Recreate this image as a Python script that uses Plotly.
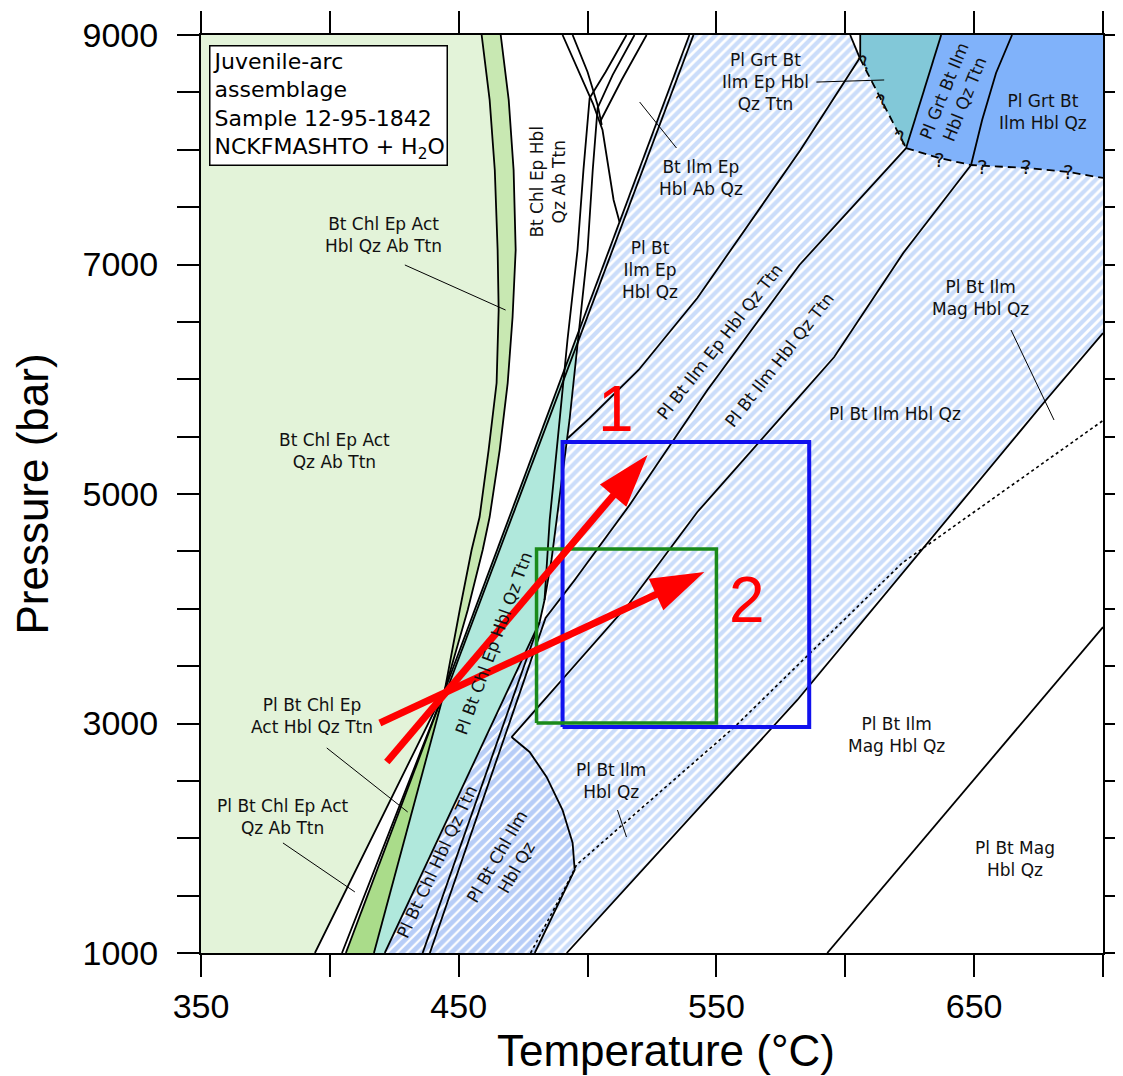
import plotly.graph_objects as go

# ---------------- axis ticks ----------------
T_RANGE = [350, 700]
P_RANGE = [1000, 9000]
T_TICKS = [350, 400, 450, 500, 550, 600, 650, 700]
T_TICK_TEXT = ["350", "", "450", "", "550", "", "650", ""]
P_TICKS = [1000, 1500, 2000, 2500, 3000, 3500, 4000, 4500, 5000,
           5500, 6000, 6500, 7000, 7500, 8000, 8500, 9000]
P_TICK_TEXT = ["1000", "", "", "", "3000", "", "", "", "5000",
               "", "", "", "7000", "", "", "", "9000"]

# ---------------- field boundaries (T in degC, P in bar) ----------------
IP_T, IP_P = 444.6, 3292          # invariant point where the arrows cross

GL_T = [458.9, 462.0, 464.0, 465.1, 465.5, 464.7, 461.6, 458.1, 455.0, 450.4, 444.6]
GL_P = [9000, 8434, 7824, 7126, 6603, 5967, 5383, 4799, 4512, 3989, 3292]
GR_T = [466.3, 469.4, 471.3, 472.1, 470.9, 469.0, 465.9, 462.0, 459.3, 453.5, 444.6]
GR_P = [9000, 8434, 7824, 7126, 6542, 5967, 5383, 4799, 4512, 3989, 3292]

# lines fanning out below the invariant point (T at P = 1000)
FAN_A_T, FAN_B_T, FAN_C_T, FAN_D_T = 394.2, 404.7, 406.2, 417.1

DL1_T = [539.5, 444.6]; DL1_P = [9000, 3292]
DL2_T = [541.1, 445.4]; DL2_P = [9000, 3292]

R1_T = [490.3, 496.1, 502.0, 505.8, 508.1, 510.1, 512.4]
R1_P = [9000, 8712, 8407, 8172, 7824, 7562, 7370]
R2_T = [494.2, 500.0, 503.9, 505.5]
R2_P = [9000, 8678, 8390, 8216]
Q3_T = [522.9, 513.2, 504.8]
Q3_P = [9000, 8608, 8242]

ALPHA_T = [515.1, 507.0, 500.8, 498.4, 496.1, 492.2, 488.4, 485.3, 483.3]
ALPHA_P = [9000, 8678, 8451, 7824, 7126, 6342, 5471, 4773, 4076]
BETA_T = [518.2, 509.7, 503.9, 502.0, 500.0, 496.5, 493.0, 489.5, 486.0, 483.3, 481.4]
BETA_P = [9000, 8651, 8364, 7824, 7126, 6403, 5645, 5035, 4425, 4076, 3884]

LINE1_T = [605.6, 582.6, 542.6, 519.8, 500.8, 492.4]
LINE1_P = [8800, 7998, 6708, 6081, 5662, 5488]
LINE2_T = [623.6, 582.2, 546.5, 516.3, 495.0, 483.7, 467.8, 438.8]
LINE2_P = [8015, 6996, 5906, 4904, 4251, 3919, 2882, 1000]
LINE3_T = [648.8, 622.5, 595.7, 542.6, 516.3, 470.5]
LINE3_P = [7867, 7100, 6194, 4843, 4050, 2882]
LAM1_T = [481.4, 421.3]; LAM1_P = [3884, 1000]
LAM2_T = [481.4, 436.0]; LAM2_P = [3884, 1000]

DENSE_T = [470.5, 477.5, 484.1, 490.3, 494.2, 495.0, 479.5]
DENSE_P = [2882, 2752, 2534, 2246, 1959, 1724, 1000]
DOT_T = [477.9, 490.3, 495.7, 557.0, 622.1, 700.0]
DOT_P = [1000, 1523, 1767, 2969, 4399, 5640]
BIG_T = [491.9, 581.4, 677.9, 700.0]
BIG_P = [1000, 3205, 5819, 6403]
BR_T = [593.0, 700.0]; BR_P = [1000, 3841]

TOP_T = [601.9, 605.6]; TOP_P = [9000, 8800]
TEALTOP_T = [605.8, 605.8]; TEALTOP_P = [9000, 8800]
DASH1_T = [605.6, 623.6]; DASH1_P = [8800, 8015]
DASH2_T = [623.6, 636.4, 648.8, 670.2, 686.8, 700.0]
DASH2_P = [8015, 7928, 7867, 7841, 7806, 7754]
GRT1_T = [637.2, 630.6, 623.6]; GRT1_P = [9000, 8521, 8015]
GRT2_T = [664.7, 658.5, 653.1, 648.8]; GRT2_P = [9000, 8669, 8259, 7867]

QMARK_T = [607.4, 614.3, 621.7, 636.4, 653.1, 670.2, 686.8]
QMARK_P = [8756, 8416, 8102, 7911, 7850, 7850, 7806]
QMARK_ANG = [-25, -25, -25, 0, 0, 0, 0]

# boxes and P-T paths
BLUE_BOX_T = [490.3, 586.0]; BLUE_BOX_P = [2969, 5453]
GREEN_BOX_T = [480.2, 550.0]; GREEN_BOX_P = [3004, 4521]
PATH1_T = [422.1, 523.3]; PATH1_P = [2664, 5340]
PATH2_T = [419.4, 545.3]; PATH2_P = [3004, 4320]

# leader lines
LEADERS = [
    ([429.1, 468.2], [6996, 6603]),
    ([520.2, 534.5], [8416, 8015]),
    ([588.8, 615.1], [8590, 8608]),
    ([664.3, 681.0], [6429, 5645]),
    ([398.8, 430.2], [2787, 2229]),
    ([381.8, 409.7], [1959, 1532]),
    ([511.6, 515.1], [2246, 2011]),
]

# field labels: (text, T, P, angle)
LABELS = [
    ("Bt Chl Ep Act<br>Hbl Qz Ab Ttn", 420.9, 7257, 0),
    ("Bt Chl Ep Act<br>Qz Ab Ttn", 401.9, 5375, 0),
    ("Bt Chl Ep Hbl<br>Qz Ab Ttn", 484.5, 7719, -90),
    ("Pl Grt Bt<br>Ilm Ep Hbl<br>Qz Ttn", 569.0, 8590, 0),
    ("Bt Ilm Ep<br>Hbl Ab Qz", 544.2, 7754, 0),
    ("Pl Bt<br>Ilm Ep<br>Hbl Qz", 524.4, 6952, 0),
    ("Pl Bt Ilm Ep Hbl Qz Ttn", 551.2, 6325, -52),
    ("Pl Bt Ilm Hbl Qz Ttn", 574.4, 6168, -52),
    ("Pl Bt Ilm Hbl Qz", 619.4, 5697, 0),
    ("Pl Bt Ilm<br>Mag Hbl Qz", 652.3, 6708, 0),
    ("Pl Grt Bt Ilm<br>Hbl Qz Ttn", 642.3, 8477, -68),
    ("Pl Grt Bt<br>Ilm Hbl Qz", 676.7, 8329, 0),
    ("Pl Bt Chl Ep Hbl Qz Ttn", 463.6, 3702, -70),
    ("Pl Bt Chl Ep<br>Act Hbl Qz Ttn", 393.0, 3065, 0),
    ("Pl Bt Chl Ep Act<br>Qz Ab Ttn", 381.8, 2185, 0),
    ("Pl Bt Chl Hbl Qz Ttn", 441.5, 1793, -65),
    ("Pl Bt Chl Ilm<br>Hbl Qz", 468.6, 1793, -60),
    ("Pl Bt Ilm<br>Hbl Qz", 508.9, 2499, 0),
    ("Pl Bt Ilm<br>Mag Hbl Qz", 619.8, 2900, 0),
    ("Pl Bt Mag<br>Hbl Qz", 665.9, 1819, 0),
]

# ---------------- colours ----------------
C_LG = "#e3f3d9"
C_GUP = "#c8e8b2"
C_GLOW = "#aadc8a"
C_TEAL = "#b0e8dc"
C_TEAL2 = "#82c8d8"
C_BLUE = "#80b2fa"
C_HATCH = "#98bcf5"
C_HATCH_D = "#6f9bef"

fig = go.Figure()


def area(t, p, color):
    fig.add_trace(go.Scatter(x=t, y=p, mode="lines", fill="toself", fillcolor=color,
                             line=dict(width=0), hoverinfo="skip", showlegend=False))


def hatch(t, p, fg, solid=0.5):
    fig.add_trace(go.Scatter(x=t, y=p, mode="lines", fill="toself", fillcolor="white",
                             fillpattern=dict(shape="/", fgcolor=fg, bgcolor="white",
                                              size=7, solidity=solid),
                             line=dict(width=0), hoverinfo="skip", showlegend=False))


def line(t, p, width=1.8, dash="solid", color="black"):
    fig.add_trace(go.Scatter(x=t, y=p, mode="lines",
                             line=dict(color=color, width=width, dash=dash),
                             hoverinfo="skip", showlegend=False))


# ---- filled fields ----
area([T_RANGE[0]] + GL_T + [FAN_A_T, T_RANGE[0]],
     [P_RANGE[1]] + GL_P + [P_RANGE[0], P_RANGE[0]], C_LG)
area(GL_T + GR_T[::-1], GL_P + GR_P[::-1], C_GUP)
area([IP_T, FAN_C_T, FAN_D_T], [IP_P, P_RANGE[0], P_RANGE[0]], C_GLOW)

apex_t, apex_p = BETA_T[5], BETA_P[5]
area([apex_t, IP_T, FAN_D_T, LAM1_T[1]] + BETA_T[10:4:-1],
     [apex_p, IP_P, P_RANGE[0], LAM1_P[1]] + BETA_P[10:4:-1], C_TEAL)

# light hatched field
lh_t = ([DL1_T[0]] + TOP_T + DASH1_T[1:] + DASH2_T[1:] + [T_RANGE[1]] + BIG_T[::-1]
        + DENSE_T[::-1] + [LINE2_T[6], LINE2_T[5]] + BETA_T[8:4:-1])
lh_p = ([DL1_P[0]] + TOP_P + DASH1_P[1:] + DASH2_P[1:] + [BIG_P[3]] + BIG_P[::-1]
        + DENSE_P[::-1] + [LINE2_P[6], LINE2_P[5]] + BETA_P[8:4:-1])
hatch(lh_t, lh_p, C_HATCH, 0.6)

# dense hatched fields
dn_t = LAM1_T + DENSE_T[::-1] + [LINE2_T[6], LINE2_T[5]]
dn_p = LAM1_P + DENSE_P[::-1] + [LINE2_P[6], LINE2_P[5]]
hatch(dn_t, dn_p, C_HATCH_D, 0.68)

# top-right garnet fields
area([TEALTOP_T[0], GRT1_T[0], GRT1_T[1], GRT1_T[2], DASH1_T[0]],
     [P_RANGE[1], GRT1_P[0], GRT1_P[1], GRT1_P[2], DASH1_P[0]], C_TEAL2)
area([GRT1_T[0]] + GRT2_T + [DASH2_T[1], DASH2_T[0]] + [GRT1_T[1]],
     [GRT1_P[0]] + GRT2_P + [DASH2_P[1], DASH2_P[0]] + [GRT1_P[1]], C_BLUE)
area([GRT2_T[0], T_RANGE[1], T_RANGE[1]] + DASH2_T[4:1:-1] + GRT2_T[2:0:-1],
     [GRT2_P[0], P_RANGE[1], DASH2_P[5]] + DASH2_P[4:1:-1] + GRT2_P[2:0:-1], C_BLUE)

# ---- boundaries ----
line(GL_T + [FAN_A_T], GL_P + [P_RANGE[0]])
line(GR_T + [FAN_B_T], GR_P + [P_RANGE[0]])
line([IP_T, FAN_C_T], [IP_P, P_RANGE[0]])
line([IP_T, FAN_D_T], [IP_P, P_RANGE[0]])
line(DL1_T, DL1_P)
line(DL2_T, DL2_P)
line(R1_T, R1_P)
line(R2_T, R2_P)
line(Q3_T, Q3_P)
line(ALPHA_T, ALPHA_P)
line(BETA_T, BETA_P)
line(LINE1_T, LINE1_P)
line(LINE2_T, LINE2_P)
line(LINE3_T, LINE3_P)
line(LAM1_T, LAM1_P)
line(LAM2_T, LAM2_P)
line(DENSE_T, DENSE_P)
line(DOT_T, DOT_P, width=1.6, dash="dot")
line(BIG_T, BIG_P)
line(BR_T, BR_P)
line(TOP_T, TOP_P)
line(TEALTOP_T, TEALTOP_P)
line(GRT1_T, GRT1_P)
line(GRT2_T, GRT2_P)
line(DASH1_T, DASH1_P, dash="8px,5px")
line(DASH2_T, DASH2_P, dash="8px,5px")
for lt, lp in LEADERS:
    line(lt, lp, width=1.0)

# ---- boxes ----
line([BLUE_BOX_T[0], BLUE_BOX_T[1], BLUE_BOX_T[1], BLUE_BOX_T[0], BLUE_BOX_T[0]],
     [BLUE_BOX_P[0], BLUE_BOX_P[0], BLUE_BOX_P[1], BLUE_BOX_P[1], BLUE_BOX_P[0]],
     width=4, color="#1111ee")
line([GREEN_BOX_T[0], GREEN_BOX_T[1], GREEN_BOX_T[1], GREEN_BOX_T[0], GREEN_BOX_T[0]],
     [GREEN_BOX_P[0], GREEN_BOX_P[0], GREEN_BOX_P[1], GREEN_BOX_P[1], GREEN_BOX_P[0]],
     width=3.5, color="#1a8a1a")

# ---- P-T path arrows ----
for pt, pp in ((PATH1_T, PATH1_P), (PATH2_T, PATH2_P)):
    fig.add_trace(go.Scatter(x=pt, y=pp, mode="lines+markers",
                             line=dict(color="#ff0000", width=7),
                             marker=dict(symbol="arrow", size=[0, 56], angleref="previous",
                                         color="#ff0000", opacity=1, line=dict(width=0)),
                             hoverinfo="skip", showlegend=False))

ann = []
LABEL_FONT = dict(family="DejaVu Sans", size=17, color="#111111")
for txt, t, p, ang in LABELS:
    ann.append(dict(x=t, y=p, xref="x", yref="y", text=txt, showarrow=False,
                    font=LABEL_FONT, textangle=ang))
for t, p, a in zip(QMARK_T, QMARK_P, QMARK_ANG):
    ann.append(dict(x=t, y=p, xref="x", yref="y", text="?", showarrow=False,
                    font=dict(family="DejaVu Sans", size=20, color="#111111"), textangle=a))

ann.append(dict(x=510.9, y=5741, xref="x", yref="y", text="1", showarrow=False,
                font=dict(family="Liberation Sans", size=64, color="#ff0000")))
ann.append(dict(x=562.0, y=4076, xref="x", yref="y", text="2", showarrow=False,
                font=dict(family="Liberation Sans", size=64, color="#ff0000")))

# info box
ann.append(dict(x=353.1, y=8913, xref="x", yref="y", xanchor="left", yanchor="top",
                text="Juvenile-arc<br>assemblage<br>Sample 12-95-1842<br>NCKFMASHTO + H<sub>2</sub>O",
                showarrow=False, align="left", bgcolor="white", bordercolor="black",
                borderwidth=1.5, borderpad=2,
                font=dict(family="DejaVu Sans", size=22, color="black")))

# x-axis title (placed slightly right of centre, as in the original)
ann.append(dict(x=0.5155, y=-0.1057, xref="paper", yref="paper", text="Temperature (°C)",
                showarrow=False, yanchor="middle",
                font=dict(family="Liberation Sans", size=44, color="black")))

axis_common = dict(showline=True, linecolor="black", linewidth=2, mirror="ticks",
                   ticks="outside", ticklen=22, tickwidth=2, tickcolor="black",
                   showgrid=False, zeroline=False, automargin=False,
                   tickfont=dict(family="Liberation Sans", size=34, color="black"))

fig.update_layout(
    width=1107, height=1068,
    margin=dict(l=193, r=12, t=27, b=123, autoexpand=False),
    paper_bgcolor="white", plot_bgcolor="white",
    xaxis=dict(range=T_RANGE, tickmode="array", tickvals=T_TICKS, ticktext=T_TICK_TEXT,
               ticklabelstandoff=0, **axis_common),
    yaxis=dict(range=P_RANGE, tickmode="array", tickvals=P_TICKS, ticktext=P_TICK_TEXT,
               ticklabelstandoff=12,
               title=dict(text="Pressure (bar)", standoff=26,
                          font=dict(family="Liberation Sans", size=44, color="black")),
               **axis_common),
    annotations=ann,
    showlegend=False,
)

fig.write_html("out.html")
